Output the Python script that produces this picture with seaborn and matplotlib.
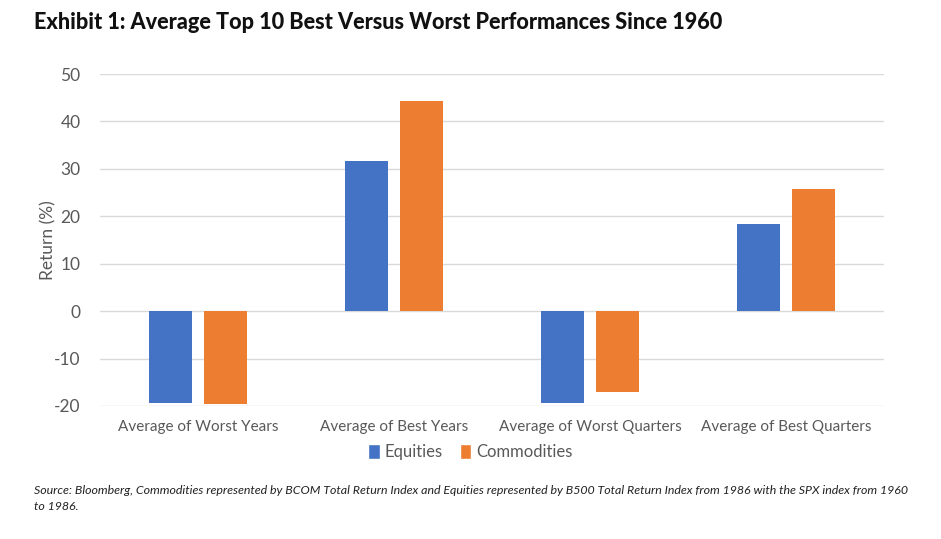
import matplotlib
matplotlib.use("Agg")
import matplotlib.pyplot as plt
import seaborn as sns
import pandas as pd
from matplotlib.patches import Patch

categories = ["Average of Worst Years", "Average of Best Years",
              "Average of Worst Quarters", "Average of Best Quarters"]
series_names = ["Equities", "Commodities"]
equities = [-19.3, 31.6, -19.3, 18.3]
commodities = [-19.5, 44.4, -17.1, 25.7]
yticks = [-20, -10, 0, 10, 20, 30, 40, 50]

df = pd.DataFrame({
    "category": categories * 2,
    "series": [series_names[0]] * 4 + [series_names[1]] * 4,
    "value": equities + commodities,
})

sns.set_theme(style="white")
plt.rcParams['font.family'] = ['Lato', 'DejaVu Sans']

colors = {"Equities": "#4472C4", "Commodities": "#ED7D31"}
fig = plt.figure(figsize=(9.41, 5.39), dpi=100)
ax = fig.add_axes([0.1063, 0.2468, 0.8331, 0.6159])
sns.barplot(data=df, x="category", y="value", hue="series", palette=colors,
            width=0.566, gap=0.22, ax=ax, legend=False, saturation=1,
            order=categories, hue_order=series_names, zorder=3, linewidth=0)

ax.set_ylim(-20, 50)
ax.set_yticks(yticks)
ax.set_yticklabels([str(t) for t in yticks], fontsize=12.5, color="#595959")
ax.grid(axis="y", color="#d9d9d9", linewidth=1, zorder=0)
ax.set_axisbelow(True)
for s in ax.spines.values():
    s.set_visible(False)
ax.tick_params(axis="both", length=0)
ax.tick_params(axis="y", pad=14)
ax.tick_params(axis="x", pad=10)
for lbl in ax.get_xticklabels():
    lbl.set_fontsize(11)
    lbl.set_color("#595959")
ax.set_xlabel("")
ax.set_ylabel("Return (%)", fontsize=12.5, color="#595959", labelpad=-2)

fig.text(0.036, 0.958, "Exhibit 1: Average Top 10 Best Versus Worst Performances Since 1960",
         fontsize=15.6, fontweight="black", color="#111111", va="center")

handles = [Patch(facecolor=colors[n], label=n) for n in series_names]
fig.legend(handles=handles, loc="center", bbox_to_anchor=(0.5, 0.162), ncol=2,
           frameon=False, fontsize=12, handlelength=0.7, handleheight=1.0,
           handletextpad=0.3, columnspacing=1.0, labelcolor="#595959")

fig.text(0.036, 0.075,
         "Source: Bloomberg, Commodities represented by BCOM Total Return Index and Equities represented by B500 Total Return Index from 1986 with the SPX index from 1960\nto 1986.",
         fontsize=8.95, style="italic", color="#222222", va="center", linespacing=1.5)

fig.savefig("out.png", dpi=100)
